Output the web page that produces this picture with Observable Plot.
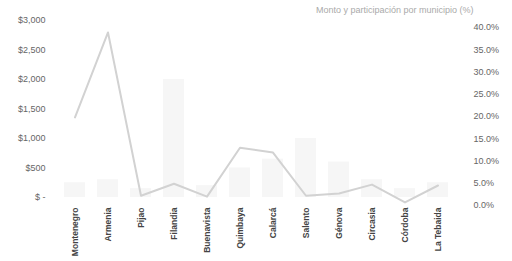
<!DOCTYPE html>
<html>
<head>
<meta charset="utf-8">
<script src="https://cdn.jsdelivr.net/npm/d3@7"></script>
<script src="https://cdn.jsdelivr.net/npm/@observablehq/plot@0.6"></script>
<style>
  html, body { margin: 0; padding: 0; background: #fff; overflow: hidden; }
  #chart svg { display: block; }
</style>
</head>
<body>
<div id="chart"></div>
<script>
// Categories (municipios)
const municipios = ["Montenegro", "Armenia", "Pijao", "Filandia", "Buenavista", "Quimbaya", "Calarcá", "Salento", "Génova", "Circasia", "Córdoba", "La Tebaida"];
// Bars: amount in $ (left axis) – very faint in the reference
const monto = [250, 300, 150, 2000, 200, 500, 650, 1000, 600, 300, 150, 250];
// Line: percentage (right axis)
const porcentaje = [19.8, 38.9, 2.2, 4.9, 2.0, 13.0, 11.9, 2.2, 2.7, 4.7, 0.7, 4.5];
// Tick labels
const ticksIzq = [0, 500, 1000, 1500, 2000, 2500, 3000];
const ticksDer = [0, 5, 10, 15, 20, 25, 30, 35, 40];
const titulo = "Monto y participación por municipio (%)";

// Secondary (right) axis mapped into the primary y units
const pctBase = -136, pctUnit = 75.4;
const pctToY = p => pctBase + pctUnit * p;
const yToPct = v => (v - pctBase) / pctUnit;

const data = municipios.map((m, i) => ({municipio: m, monto: monto[i], pct: porcentaje[i]}));

const chart = Plot.plot({
  width: 512,
  height: 261,
  marginLeft: 53,
  marginRight: 52,
  marginTop: 20,
  marginBottom: 64,
  style: {fontFamily: "Liberation Sans, Arial, sans-serif", background: "#fff", overflow: "hidden"},
  x: {type: "band", domain: municipios, paddingInner: 0.35, paddingOuter: 0.175, label: null},
  y: {domain: [0, 3000], label: null},
  marks: [
    Plot.barY(data, {x: "municipio", y: "monto", fill: "#f6f6f6"}),
    Plot.line(data, {x: "municipio", y: d => pctToY(d.pct), stroke: "#d2d2d2", strokeWidth: 2}),
    Plot.axisY(ticksIzq, {
      anchor: "left", label: null, tickSize: 0, tickPadding: 8, fontSize: 9, fill: "#666",
      tickFormat: d => d === 0 ? "$ -" : "$" + d3.format(",")(d)
    }),
    Plot.axisY(ticksDer.map(pctToY), {
      anchor: "right", label: null, tickSize: 0, tickPadding: 13, fontSize: 9, fill: "#666",
      textAnchor: "start",
      tickFormat: v => yToPct(v).toFixed(1) + "%"
    }),
    Plot.axisX({
      label: null, tickRotate: -90, tickSize: 0, tickPadding: 10, fontSize: 8.5, fontWeight: 600, fill: "#444"
    }),
    Plot.text([titulo], {
      frameAnchor: "top-right", dx: 13, dy: -14, textAnchor: "end",
      fontSize: 9, fill: "#aaa"
    })
  ]
});
document.getElementById("chart").append(chart);
</script>
</body>
</html>
